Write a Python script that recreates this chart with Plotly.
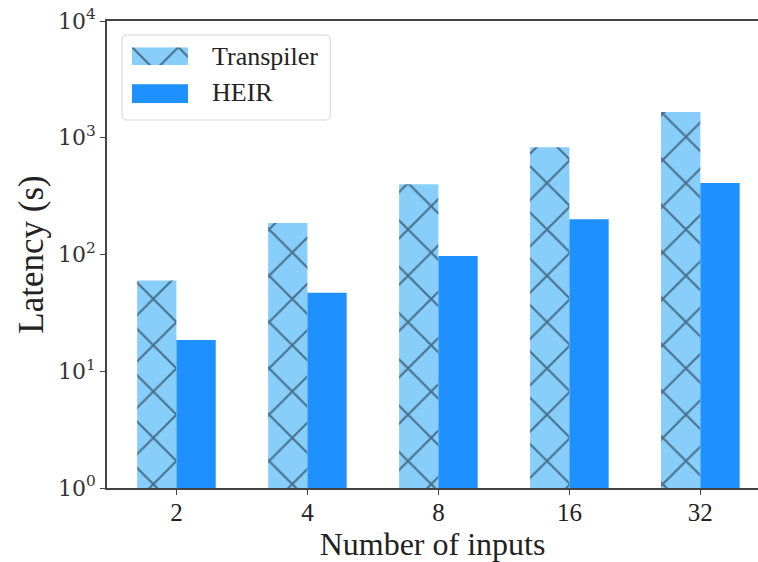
import plotly.graph_objects as go

categories = ["2", "4", "8", "16", "32"]
transpiler = [60, 186, 400, 830, 1660]
heir = [18.5, 47, 97, 200, 410]
series_names = ["Transpiler", "HEIR"]
ytick_vals = [1, 10, 100, 1000, 10000]
ytick_text = ["10<sup>0</sup>", "10<sup>1</sup>", "10<sup>2</sup>", "10<sup>3</sup>", "10<sup>4</sup>"]

LIGHT = "#87CEFA"
DARK = "#1E90FF"
HATCH = dict(shape="x", size=32.75, solidity=0.12, fgcolor="#05101a",
             bgcolor=LIGHT, fillmode="overlay")

xpos = list(range(len(categories)))
w = 0.3
serif = "Liberation Serif, Times New Roman, serif"

fig = go.Figure()
fig.add_trace(go.Bar(
    x=[p - w / 2 for p in xpos], y=transpiler, width=w, name=series_names[0],
    marker=dict(color=LIGHT, line=dict(width=0), pattern=HATCH), showlegend=False,
))
fig.add_trace(go.Bar(
    x=[p + w / 2 for p in xpos], y=heir, width=w, name=series_names[1],
    marker=dict(color=DARK, line=dict(width=0)), showlegend=False,
))

# --- custom legend (patches drawn on a small hidden inset axis) ---
fig.add_trace(go.Bar(
    y=[0.84], x=[1], base=0, width=0.317, orientation="h", xaxis="x2", yaxis="y2",
    marker=dict(color=LIGHT, line=dict(width=0), pattern=HATCH),
    showlegend=False, hoverinfo="skip",
))
fig.add_trace(go.Bar(
    y=[0.17], x=[1], base=0, width=0.34, orientation="h", xaxis="x2", yaxis="y2",
    marker=dict(color=DARK, line=dict(width=0)),
    showlegend=False, hoverinfo="skip",
))

x0, x1, y0, y1, r = 0.023, 0.343, 0.788, 0.970, 0.008
ry = r * 651 / 467
legend_path = (f"M{x0+r},{y0} L{x1-r},{y0} Q{x1},{y0} {x1},{y0+ry} "
               f"L{x1},{y1-ry} Q{x1},{y1} {x1-r},{y1} L{x0+r},{y1} "
               f"Q{x0},{y1} {x0},{y1-ry} L{x0},{y0+ry} Q{x0},{y0} {x0+r},{y0} Z")

fig.update_layout(
    width=758, height=562,
    margin=dict(l=107, r=0, t=21, b=74),
    plot_bgcolor="white", paper_bgcolor="white",
    font=dict(family=serif, size=24, color="#222"),
    barmode="overlay",
    showlegend=False,
    shapes=[dict(type="path", path=legend_path, xref="paper", yref="paper",
                 fillcolor="white", line=dict(color="#d4d4d4", width=1), layer="below")],
    annotations=[
        dict(text=series_names[0], x=0.158, y=0.925, xref="paper", yref="paper",
             xanchor="left", yanchor="middle", showarrow=False,
             font=dict(size=26, family=serif, color="#222")),
        dict(text=series_names[1], x=0.158, y=0.846, xref="paper", yref="paper",
             xanchor="left", yanchor="middle", showarrow=False,
             font=dict(size=26, family=serif, color="#222")),
    ],
    xaxis=dict(
        range=[-0.53, 4.44], tickvals=xpos, ticktext=categories, automargin=False,
        showline=True, linecolor="#444", linewidth=1.5, mirror=True,
        ticks="outside", ticklen=5, tickcolor="#444", showgrid=False, zeroline=False,
        title=dict(text="Number of inputs", font=dict(size=32, family=serif), standoff=10),
        tickfont=dict(size=25, family=serif), ticklabelstandoff=-4,
    ),
    yaxis=dict(
        type="log", range=[0, 4], tickvals=ytick_vals, ticktext=ytick_text, automargin=False,
        showline=True, linecolor="#444", linewidth=1.5, mirror=False,
        ticks="outside", ticklen=5, tickcolor="#444", showgrid=False, zeroline=False,
        ticklabeloverflow="allow",
        title=dict(text="Latency (s)", font=dict(size=35, family=serif), standoff=4),
        tickfont=dict(size=22, family="DejaVu Serif, serif", color="#333"),
    ),
    xaxis2=dict(domain=[0.0384, 0.1244], range=[0, 1], visible=False, fixedrange=True,
                anchor="y2"),
    yaxis2=dict(domain=[0.824, 0.944], range=[0, 1], visible=False, fixedrange=True,
                anchor="x2"),
)
fig.write_html(
    "out.html",
    config={"displayModeBar": False},
    post_script="document.body.style.margin='0';document.body.style.overflow='hidden';",
)
